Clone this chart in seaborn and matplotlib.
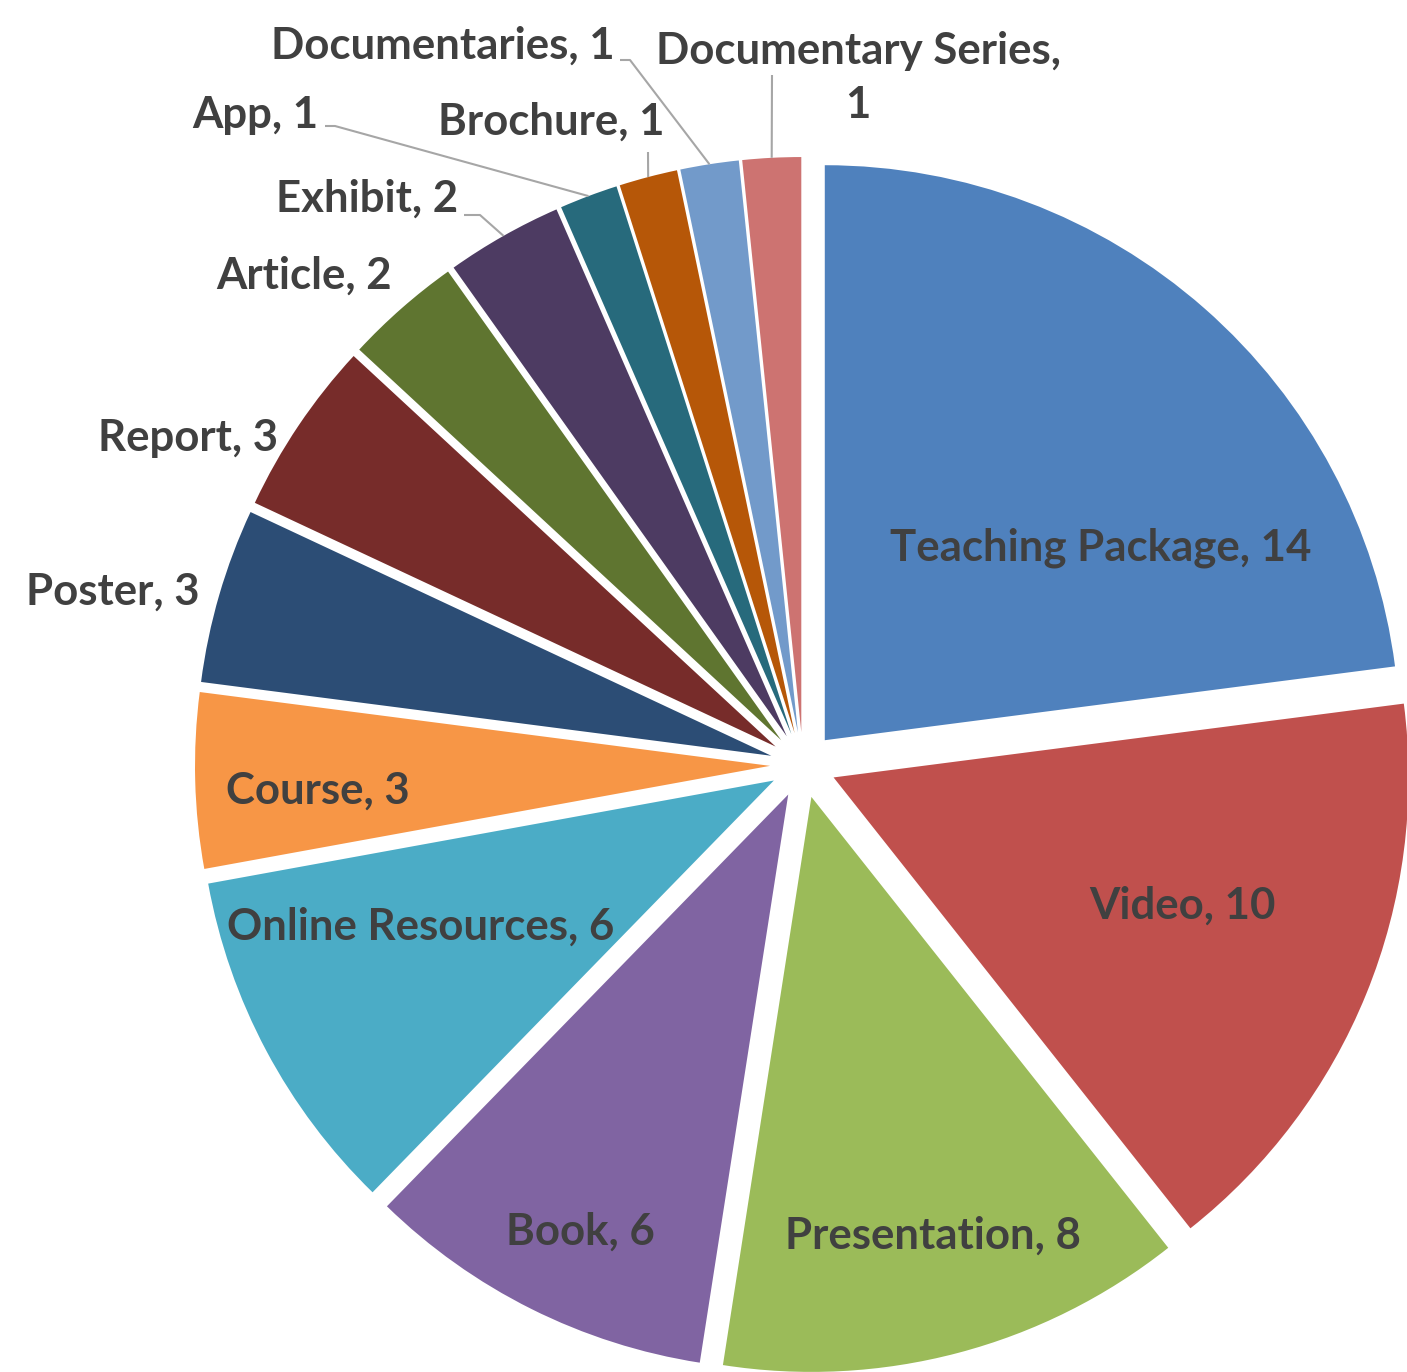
import numpy as np
import matplotlib
matplotlib.use("Agg")
import matplotlib.pyplot as plt
import seaborn as sns

# --- Data ---
categories = ["Teaching Package", "Video", "Presentation", "Book", "Online Resources",
              "Course", "Poster", "Report", "Article", "Exhibit", "App", "Brochure",
              "Documentaries", "Documentary Series"]
counts = [14, 10, 8, 6, 6, 3, 3, 3, 2, 2, 1, 1, 1, 1]

# Excel-like office palette
colors = ["#4F81BD", "#C0504D", "#9BBB59", "#8064A2", "#4BACC6", "#F79646",
          "#2C4D75", "#772C2A", "#5F7530", "#4D3B62", "#276A7C", "#B65708",
          "#729ACA", "#CD7371"]

# --- Layout (pixels, y measured from top) ---
W, H = 1407, 1372
cx, cy = 803, 765
R = 575
EXPL = 33

# label: (x, y, ha, leader points from label side)
label_layout = {
    "Teaching Package": (1101, 548, "center", None),
    "Video": (1182, 906, "center", None),
    "Presentation": (933, 1236, "center", None),
    "Book": (580, 1232, "center", None),
    "Online Resources": (421, 927, "center", None),
    "Course": (318, 791, "center", None),
    "Poster": (200, 592, "right", None),
    "Report": (278, 438, "right", None),
    "Article": (392, 276, "right", None),
    "Exhibit": (458, 199, "right", [(464, 215), (480, 215)]),
    "App": (318, 115, "right", [(325, 126), (335, 126)]),
    "Brochure": (551, 122, "center", [(648, 152)]),
    "Documentaries": (615, 46, "right", [(620, 60), (630, 60)]),
    "Documentary Series": (858, 78, "center", [(772, 75)]),
}

sns.set_theme(style="white")
plt.rcParams["font.family"] = ["Lato", "DejaVu Sans"]

fig = plt.figure(figsize=(W / 100, H / 100), dpi=100)
ax = fig.add_axes([0, 0, 1, 1])

wedges, _ = ax.pie(counts, colors=sns.color_palette(colors), startangle=90,
                   counterclock=False, radius=R, center=(cx, H - cy),
                   explode=[EXPL] * len(counts), wedgeprops=dict(linewidth=0))
ax.set_xlim(0, W)
ax.set_ylim(0, H)
ax.axis("off")

txt_color = "#404040"
line_color = "#A6A6A6"
for w, name, n in zip(wedges, categories, counts):
    x, y, ha, leader = label_layout[name]
    text = f"{name}, {n}"
    if name == "Documentary Series":
        text = f"{name},\n{n}"
    ax.text(x, H - y, text, ha=ha, va="center", fontsize=31.5, fontweight="bold",
            color=txt_color, linespacing=1.45)
    if leader:
        mid = np.deg2rad((w.theta1 + w.theta2) / 2)
        ox, oy = w.center
        px = ox + R * np.cos(mid)
        py = oy + R * np.sin(mid)
        xs = [p[0] for p in leader] + [px]
        ys = [H - p[1] for p in leader] + [py]
        ax.plot(xs, ys, color=line_color, lw=1.5, solid_capstyle="butt")

fig.savefig("out.png", dpi=100, facecolor="white")
